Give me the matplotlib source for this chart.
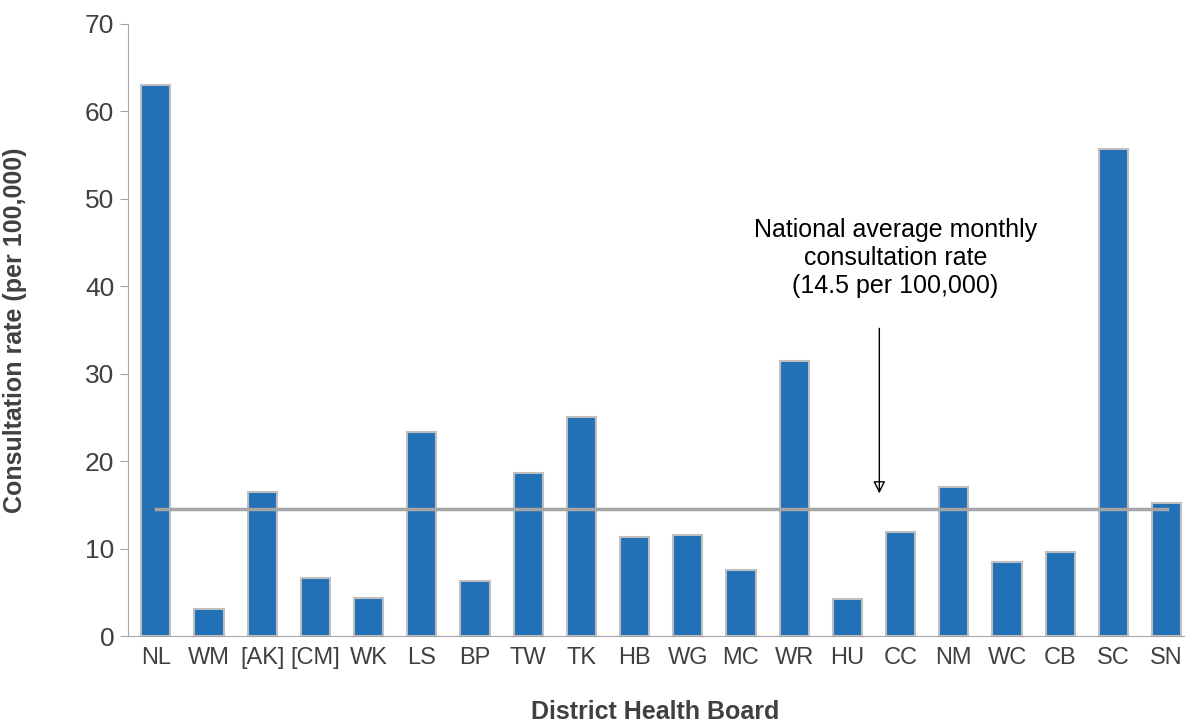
import matplotlib.pyplot as plt

boards = ['NL', 'WM', '[AK]', '[CM]', 'WK', 'LS', 'BP', 'TW', 'TK', 'HB',
          'WG', 'MC', 'WR', 'HU', 'CC', 'NM', 'WC', 'CB', 'SC', 'SN']
rates = [63.0, 3.1, 16.5, 6.6, 4.3, 23.3, 6.3, 18.7, 25.0, 11.3,
         11.5, 7.6, 31.5, 4.2, 11.9, 17.0, 8.5, 9.6, 55.7, 15.2]
national_avg = 14.5

plt.rcParams['font.family'] = ['Liberation Sans', 'DejaVu Sans']
fig, ax = plt.subplots(figsize=(11.92, 7.22), dpi=100)
fig.subplots_adjust(left=0.107, right=0.993, top=0.967, bottom=0.119)

x = range(len(boards))
ax.bar(x, rates, width=0.55, color='#2270B5', edgecolor='#BFBFBF', linewidth=1.5, zorder=2)
ax.plot([0, len(boards) - 1], [national_avg, national_avg], color='#A6A6A6', lw=2.5, zorder=3)

ax.annotate('', xy=(13.6, 16.0), xytext=(13.6, 35.5),
            arrowprops=dict(arrowstyle='-|>', color='black', lw=1, mutation_scale=18, fill=False))
ax.text(13.9, 47.8, 'National average monthly\nconsultation rate\n(14.5 per 100,000)',
        ha='center', va='top', fontsize=18, linespacing=1.2)

ax.set_xlim(-0.53, 19.32)
ax.set_ylim(0, 70)
ax.set_yticks(range(0, 71, 10))
ax.set_xticks(list(x))
ax.set_xticklabels(boards)
ax.tick_params(axis='both', labelsize=17, colors='#404040', length=6, color='#A6A6A6')
ax.tick_params(axis='y', labelsize=19)
ax.tick_params(axis='x', length=0, pad=8)
for s in ['top', 'right']:
    ax.spines[s].set_visible(False)
for s in ['left', 'bottom']:
    ax.spines[s].set_color('#A6A6A6')
ax.set_xlabel('District Health Board', fontsize=18, fontweight='bold', color='#404040', labelpad=22)
ax.set_ylabel('Consultation rate (per 100,000)', fontsize=18, fontweight='bold', color='#404040', labelpad=42)

fig.savefig('out.png')
